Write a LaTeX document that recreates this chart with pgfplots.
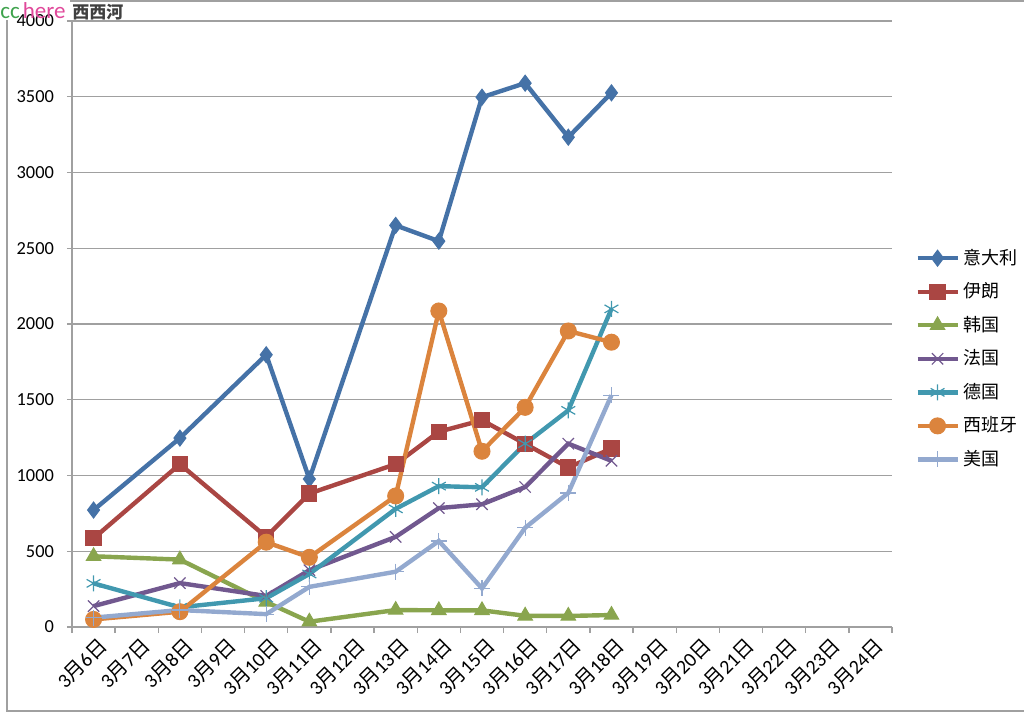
\documentclass[border=0pt]{standalone}
\usepackage{fontspec}
\setmainfont{Carlito}
\newfontfamily\cjk{Noto Sans CJK SC}
\usepackage{pgfplots}
\pgfplotsset{compat=1.18}
\definecolor{cIT}{HTML}{4572A7}
\definecolor{cIR}{HTML}{AA4643}
\definecolor{cKR}{HTML}{89A54E}
\definecolor{cFR}{HTML}{71588F}
\definecolor{cDE}{HTML}{4198AF}
\definecolor{cES}{HTML}{DB843D}
\definecolor{cUS}{HTML}{93A9CF}
\definecolor{wmgreen}{HTML}{3FA34D}
\definecolor{wmpink}{HTML}{E0489A}
\definecolor{framegray}{HTML}{A0A0A0}
\newcommand\dl[1]{3{\cjk 月}#1{\cjk 日}}
\begin{document}
\begin{tikzpicture}
\path[use as bounding box] (0,0) rectangle (512pt,-357pt);
\draw[framegray, line width=0.8pt] (35pt,-0.6pt) -- (512pt,-0.6pt);
\draw[framegray, line width=0.8pt] (3.5pt,-10pt) -- (3.5pt,-355.6pt) -- (512pt,-355.6pt);
\begin{axis}[
  at={(36pt,-313.5pt)}, anchor=south west,
  scale only axis, width=410pt, height=303pt,
  xmin=-0.5, xmax=18.5, ymin=0, ymax=4000,
  xtick={0,...,18},
  xticklabels={\dl{6},\dl{7},\dl{8},\dl{9},\dl{10},\dl{11},\dl{12},\dl{13},\dl{14},\dl{15},\dl{16},\dl{17},\dl{18},\dl{19},\dl{20},\dl{21},\dl{22},\dl{23},\dl{24}},
  minor xtick={-0.5,0.5,...,18.5},
  ytick={0,500,...,4000},
  ymajorgrids, grid style={framegray, line width=0.7pt},
  axis x line*=bottom, axis y line*=left,
  axis line style={framegray, line width=0.7pt, -},
  tick align=outside,
  major tick length=2.5pt, minor tick length=3pt,
  tick style={framegray, line width=0.7pt},
  major x tick style={draw=none},
  minor x tick style={framegray, line width=0.7pt},
  xticklabel style={rotate=45, anchor=east, font=\fontsize{10}{11}\selectfont, inner sep=1pt, xshift=1pt, yshift=-7pt},
  yticklabel style={font=\fontsize{9.2}{10}\selectfont, xshift=-3pt},
  /pgf/number format/assume math mode=true,
  /pgf/number format/1000 sep={},
  legend style={at={(1.028,0.631)}, anchor=north west, draw=none, fill=none,
    font=\fontsize{9}{10}\selectfont, row sep=3.7pt, inner sep=0pt,
    /tikz/every even column/.append style={column sep=0pt}},
  legend cell align=left,
  legend image code/.code={\draw[mark repeat=2,mark phase=2] plot coordinates {(0pt,0pt)(10pt,0pt)(20pt,0pt)};},
  every axis plot/.append style={line width=2.2pt},
]
\addplot[cIT, mark=diamond*, mark size=4pt, mark options={line width=0.5pt}] coordinates {
 (0,772) (2,1247) (4,1797) (5,977) (7,2651) (8,2547) (9,3497) (10,3590) (11,3233) (12,3526)};
\addplot[cIR, mark=square*, mark size=3.8pt, mark options={line width=0.5pt}] coordinates {
 (0,585) (2,1075) (4,595) (5,881) (7,1075) (8,1289) (9,1365) (10,1209) (11,1053) (12,1178)};
\addplot[cKR, mark=triangle*, mark size=4.2pt, mark options={line width=0.5pt}] coordinates {
 (0,467) (2,445) (4,165) (5,35) (7,112) (8,110) (9,110) (10,74) (11,73) (12,79)};
\addplot[cFR, mark=x, mark size=4pt, mark options={line width=0.6pt}] coordinates {
 (0,138) (2,290) (4,205) (5,375) (7,595) (8,785) (9,810) (10,924) (11,1210) (12,1097)};
\addplot[cDE, mark=asterisk, mark size=4pt, mark options={line width=0.6pt}] coordinates {
 (0,288) (2,130) (4,190) (5,350) (7,780) (8,930) (9,922) (10,1210) (11,1430) (12,2100)};
\addplot[cES, mark=*, mark size=4pt, mark options={line width=0.5pt}] coordinates {
 (0,50) (2,101) (4,560) (5,460) (7,865) (8,2086) (9,1160) (10,1450) (11,1954) (12,1880)};
\addplot[cUS, mark=+, mark size=4pt, mark options={line width=0.6pt}] coordinates {
 (0,62) (2,112) (4,85) (5,265) (7,365) (8,568) (9,255) (10,655) (11,885) (12,1530)};
\legend{{\cjk 意大利},{\cjk 伊朗},{\cjk 韩国},{\cjk 法国},{\cjk 德国},{\cjk 西班牙},{\cjk 美国}}
\end{axis}
\node[anchor=north west, inner sep=0pt, font=\fontsize{11.5}{12}\selectfont] at (0pt,-1pt) {\textcolor{wmgreen}{cc}\kern1.5pt\textcolor{wmpink}{here}};
\node[anchor=north west, inner sep=0pt, font=\fontsize{8.5}{9}\selectfont\cjk\bfseries, text=black!75] at (36pt,-2pt) {西西河};
\end{tikzpicture}
\end{document}
